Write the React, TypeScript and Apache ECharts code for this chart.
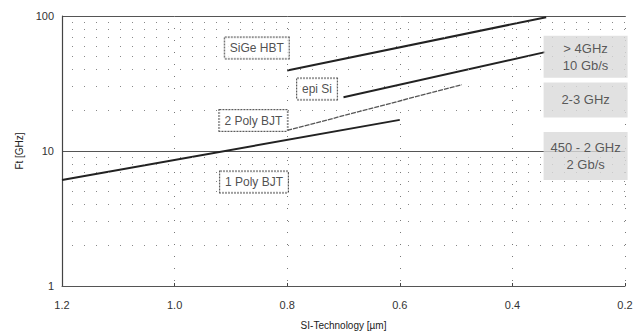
import React, { useEffect, useRef } from "react";
import * as echarts from "echarts";

// Technology node [µm] vs Ft [GHz]
const onePolyX = [1.2, 0.6];
const onePolyY = [6.1, 17];
const twoPolyX = [0.8, 0.49];
const twoPolyY = [14.2, 31];
const epiX = [0.7, 0.342];
const epiY = [25, 54];
const sigeX = [0.8, 0.34];
const sigeY = [39.5, 98];

const techLabels = ["SiGe HBT", "epi Si", "2 Poly BJT", "1 Poly BJT"];
const techLabelX = [0.854, 0.747, 0.86, 0.859];
const techLabelY = [58, 28.8, 16.8, 5.9];

const bandLabels = ["> 4GHz\n10 Gb/s", "2-3 GHz", "450 - 2 GHz\n2 Gb/s"];
const bandLabelX = [0.27, 0.27, 0.27];
const bandLabelY = [50, 23.9, 9.2];
const bandHeights = [38, 31, 44];

const minorGrid = [2, 3, 4, 5, 6, 7, 8, 9, 20, 30, 40, 50, 60, 70, 80, 90];

const FONT = "Liberation Sans, Arial, sans-serif";

function zip(xs: number[], ys: number[]) {
  return xs.map((x, i) => [x, ys[i]]);
}

export default function App() {
  const ref = useRef<HTMLDivElement>(null);
  useEffect(() => {
    if (!ref.current) return;
    const chart = echarts.init(ref.current, undefined, { renderer: "svg" });
    const lineBase = {
      type: "line" as const,
      symbol: "none",
      silent: true,
      z: 3,
    };
    chart.setOption({
      animation: false,
      backgroundColor: "#fff",
      textStyle: { fontFamily: FONT },
      grid: { left: 62, right: 18, top: 16, bottom: 44 },
      xAxis: {
        type: "value",
        min: 0.2,
        max: 1.2,
        interval: 0.2,
        inverse: true,
        name: "SI-Technology [µm]",
        nameLocation: "middle",
        nameGap: 34,
        nameTextStyle: { fontSize: 10, color: "#222", fontFamily: FONT },
        axisLine: { show: true, lineStyle: { color: "#555", width: 1, type: [3, 1] } },
        axisTick: { show: true, length: -3, lineStyle: { color: "#444" } },
        axisLabel: {
          fontSize: 11,
          color: "#333",
          margin: 13,
          fontFamily: FONT,
          formatter: (v: number) => v.toFixed(1),
        },
        splitLine: { show: true, lineStyle: { color: "#777", type: [1, 11], width: 1 } },
      },
      yAxis: {
        type: "log",
        logBase: 10,
        min: 1,
        max: 100,
        name: "Ft [GHz]",
        nameLocation: "middle",
        nameGap: 22,
        nameRotate: 90,
        nameTextStyle: { fontSize: 10, color: "#222", fontFamily: FONT },
        axisLine: { show: true, lineStyle: { color: "#444", width: 1.2 } },
        axisTick: { show: false },
        axisLabel: { fontSize: 11, color: "#333", margin: 8, fontFamily: FONT },
        splitLine: { show: true, lineStyle: { color: "#555", width: 1 } },
        minorTick: { show: false },
        minorSplitLine: { show: false },
      },
      series: [
        {
          type: "line",
          data: [],
          silent: true,
          markLine: {
            silent: true,
            symbol: "none",
            label: { show: false },
            lineStyle: { color: "#888", type: [1, 11], width: 1 },
            data: minorGrid.map((v) => ({ yAxis: v })),
          },
        },
        { ...lineBase, data: zip(onePolyX, onePolyY), lineStyle: { color: "#222", width: 2 } },
        { ...lineBase, data: zip(twoPolyX, twoPolyY), lineStyle: { color: "#555", width: 1.3, type: [5, 1] } },
        { ...lineBase, data: zip(epiX, epiY), lineStyle: { color: "#222", width: 2 } },
        { ...lineBase, data: zip(sigeX, sigeY), lineStyle: { color: "#222", width: 2 } },
        {
          type: "scatter",
          symbolSize: 0,
          silent: true,
          z: 5,
          data: techLabels.map((t, i) => ({ value: [techLabelX[i], techLabelY[i]], name: t })),
          label: {
            show: true,
            position: "inside",
            formatter: (p: any) => p.name,
            fontSize: 12,
            color: "#222",
            fontFamily: FONT,
            backgroundColor: "#fff",
            borderColor: "#333",
            borderWidth: 1,
            borderType: [2, 1],
            padding: [5, 5, 4, 5],
          },
        },
        {
          type: "scatter",
          symbolSize: 0,
          silent: true,
          z: 5,
          data: bandLabels.map((t, i) => ({
            value: [bandLabelX[i], bandLabelY[i]],
            name: t,
            label: { height: bandHeights[i] },
          })),
          label: {
            show: true,
            position: "inside",
            formatter: (p: any) => p.name,
            fontSize: 13,
            lineHeight: 17,
            color: "#333",
            fontFamily: FONT,
            backgroundColor: "#dadada",
            width: 80,
            align: "center",
            verticalAlign: "middle",
            padding: [2, 2, 2, 2],
          },
        },
      ],
    });
    return () => chart.dispose();
  }, []);
  return (
    <div
      ref={ref}
      style={{ position: "absolute", left: 0, top: 0, width: 643, height: 335 }}
    />
  );
}
